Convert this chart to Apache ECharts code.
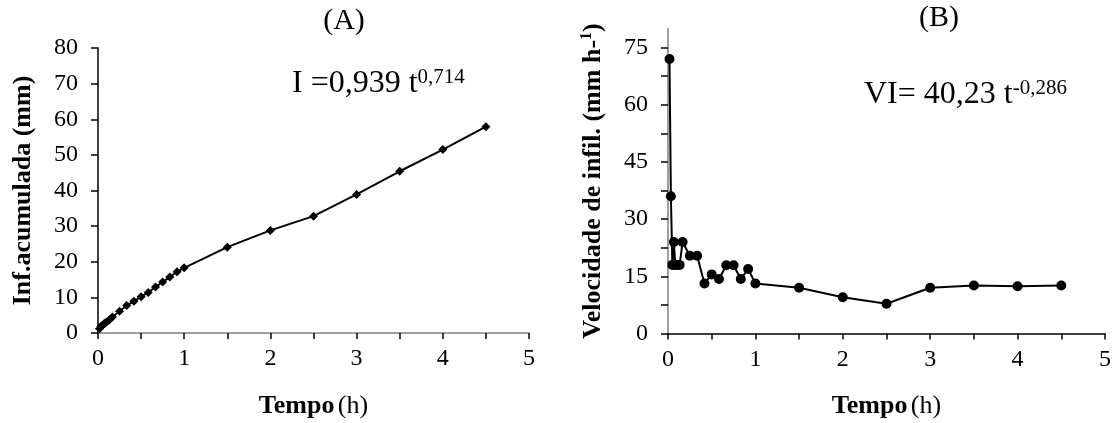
<!DOCTYPE html>
<html>
<head>
<meta charset="utf-8">
<script src="https://cdn.jsdelivr.net/npm/echarts@6/dist/echarts.min.js"></script>
<style>
  html, body { margin: 0; padding: 0; background: #fff; }
  #chart { width: 1119px; height: 423px; }
</style>
</head>
<body>
<div id="chart"></div>
<script>
// tempo em horas (1,2,3,4,5,6,8,10 min, depois de 5 em 5 min, depois 30 min)
const tempo = [0.017, 0.033, 0.05, 0.067, 0.083, 0.1, 0.133, 0.167, 0.25, 0.333, 0.417, 0.5,
  0.583, 0.667, 0.75, 0.833, 0.917, 1.0, 1.5, 2.0, 2.5, 3.0, 3.5, 4.0, 4.5]
// (A) infiltracao acumulada, mm
const infAcumulada = [1.2, 1.8, 2.1, 2.5, 2.8, 3.1, 3.7, 4.5, 6.1, 7.7, 8.9, 10.2,
  11.4, 12.9, 14.3, 15.7, 17.2, 18.3, 24.1, 28.8, 32.8, 38.9, 45.4, 51.5, 57.9]
// (B) velocidade de infiltracao, mm h-1
const velInfil = [72, 36, 18, 24, 18, 18, 18, 24, 20.4, 20.4, 13.1, 15.5,
  14.3, 17.9, 17.9, 14.3, 16.9, 13.1, 12.0, 9.5, 7.8, 12.0, 12.6, 12.4, 12.6]

const xTicks = [0, 0.5, 1, 1.5, 2, 2.5, 3, 3.5, 4, 4.5, 5]
const xLabels = [0, 1, 2, 3, 4, 5]
const yTicksA = [0, 10, 20, 30, 40, 50, 60, 70, 80]
const yTicksB = [0, 7.5, 15, 22.5, 30, 37.5, 45, 52.5, 60, 67.5, 75]
const yLabelsB = [0, 15, 30, 45, 60, 75]

const serif = '"Liberation Serif", "Times New Roman", serif'

const chart = echarts.init(document.getElementById('chart'))

function xAxisOf(gridIndex, lineColor) {
  return {
    type: 'value', gridIndex, min: 0, max: 5,
    name: '{b|Tempo} {r|(h)}',
    nameLocation: 'middle', nameGap: 60,
    nameTextStyle: {
      rich: {
        b: { fontFamily: serif, fontSize: 26, fontWeight: 'bold', color: '#000' },
        r: { fontFamily: serif, fontSize: 26, color: '#000' }
      }
    },
    axisLine: { show: true, onZero: false, lineStyle: { color: lineColor, width: 1.5 } },
    axisTick: { show: true, length: 6, customValues: xTicks, lineStyle: { color: '#000', width: 1.5 } },
    axisLabel: { customValues: xLabels, margin: 14, fontFamily: serif, fontSize: 24, color: '#000' },
    splitLine: { show: false }
  }
}

const baseText = { fontFamily: serif, color: '#000' }

chart.setOption({
  backgroundColor: '#fff',
  animation: false,
  grid: [
    { left: 98, top: 48, width: 431, height: 285, outerBoundsMode: 'none' },
    { left: 668, top: 28.5, width: 437, height: 305, outerBoundsMode: 'none' }
  ],
  xAxis: [xAxisOf(0, '#808080'), xAxisOf(1, '#000')],
  yAxis: [
    {
      type: 'value', gridIndex: 0, min: 0, max: 80,
      name: 'Inf.acumulada (mm)',
      nameLocation: 'middle', nameGap: 62,
      nameTextStyle: { fontFamily: serif, fontSize: 26, fontWeight: 'bold', color: '#000' },
      axisLine: { show: true, onZero: false, lineStyle: { color: '#000', width: 1.5 } },
      axisTick: { show: true, length: 7, customValues: yTicksA, lineStyle: { color: '#000', width: 1.5 } },
      axisLabel: { customValues: yTicksA, margin: 20, fontFamily: serif, fontSize: 24, color: '#000' },
      splitLine: { show: false }
    },
    {
      type: 'value', gridIndex: 1, min: 0, max: 80,
      name: '{b|Velocidade de infil. (mm h-}{s|1}{b|)}',
      nameLocation: 'middle', nameGap: 61,
      nameTextStyle: {
        rich: {
          b: { fontFamily: serif, fontSize: 26, fontWeight: 'bold', color: '#000' },
          s: { fontFamily: serif, fontSize: 16, fontWeight: 'bold', color: '#000', verticalAlign: 'top', padding: [0, 0, 12, 0] }
        }
      },
      axisLine: { show: true, onZero: false, lineStyle: { color: '#808080', width: 1.5 } },
      axisTick: { show: true, length: 7, customValues: yTicksB, lineStyle: { color: '#000', width: 1.5 } },
      axisLabel: { customValues: yLabelsB, margin: 20, fontFamily: serif, fontSize: 24, color: '#000' },
      splitLine: { show: false }
    }
  ],
  series: [
    {
      type: 'line', xAxisIndex: 0, yAxisIndex: 0,
      data: tempo.map((t, i) => [t, infAcumulada[i]]),
      symbol: 'diamond', symbolSize: 9,
      itemStyle: { color: '#000' },
      lineStyle: { color: '#000', width: 2 }
    },
    {
      type: 'line', xAxisIndex: 1, yAxisIndex: 1,
      data: tempo.map((t, i) => [t, velInfil[i]]),
      symbol: 'circle', symbolSize: 10,
      itemStyle: { color: '#000' },
      lineStyle: { color: '#000', width: 2 }
    }
  ],
  graphic: [
    { type: 'text', x: 344, y: 21, style: { ...baseText, text: '(A)', fontSize: 30, align: 'center', verticalAlign: 'middle' } },
    { type: 'text', x: 939, y: 18, style: { ...baseText, text: '(B)', fontSize: 30, align: 'center', verticalAlign: 'middle' } },
    {
      type: 'text', x: 292, y: 84,
      style: {
        text: '{m|I =0,939 t}{s|0,714}', verticalAlign: 'middle',
        rich: {
          m: { ...baseText, fontSize: 32 },
          s: { ...baseText, fontSize: 21, verticalAlign: 'top', padding: [0, 0, 14, 0] }
        }
      }
    },
    {
      type: 'text', x: 864, y: 95,
      style: {
        text: '{m|VI= 40,23 t}{s|-0,286}', verticalAlign: 'middle',
        rich: {
          m: { ...baseText, fontSize: 32 },
          s: { ...baseText, fontSize: 21, verticalAlign: 'top', padding: [0, 0, 14, 0] }
        }
      }
    }
  ]
})
</script>
</body>
</html>
